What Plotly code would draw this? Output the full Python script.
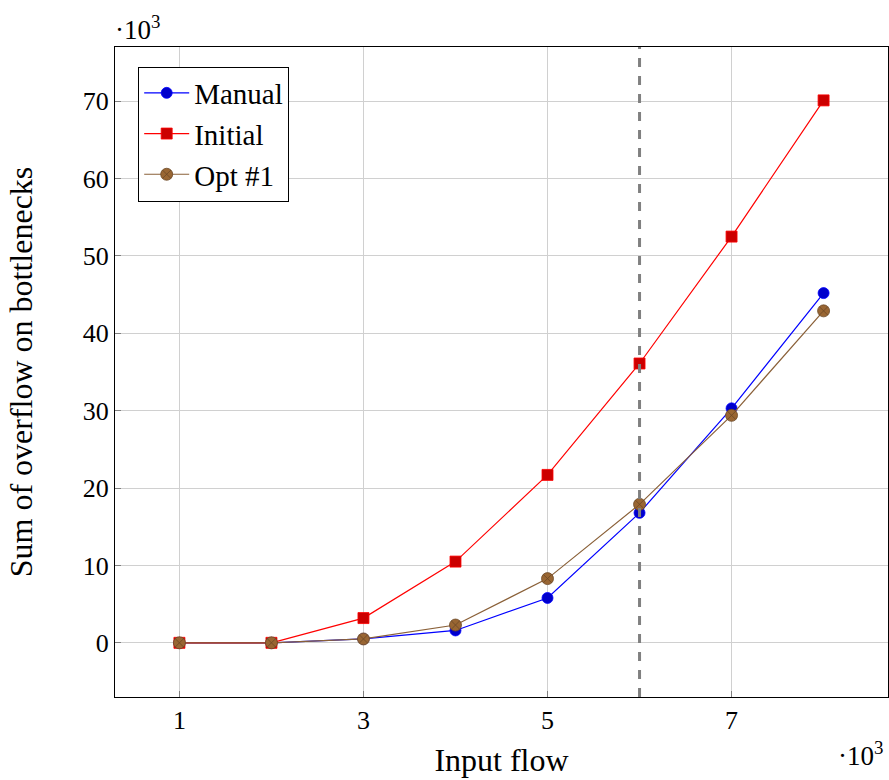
import plotly.graph_objects as go

x_flow = [1, 2, 3, 4, 5, 6, 7, 8]
manual = [0, 0, 0.5, 1.6, 5.8, 16.8, 30.3, 45.2]
initial = [0, 0, 3.2, 10.5, 21.7, 36.1, 52.5, 70.1]
opt1 = [0, 0, 0.5, 2.3, 8.3, 17.9, 29.4, 42.9]
x_ticks = [1, 3, 5, 7]
y_ticks = [0, 10, 20, 30, 40, 50, 60, 70]
vline_x = 6

FONT = "Liberation Serif"

fig = go.Figure()
fig.add_trace(go.Scatter(
    x=x_flow, y=manual, name="Manual", mode="lines+markers",
    line=dict(color="#0000ff", width=1.2),
    marker=dict(symbol="circle", size=11, color="#0000cc", line=dict(color="#0000ff", width=0.8)),
))
fig.add_trace(go.Scatter(
    x=x_flow, y=initial, name="Initial", mode="lines+markers",
    line=dict(color="#ff0000", width=1.2),
    marker=dict(symbol="square", size=11, color="#cc0000", line=dict(color="#ff0000", width=0.8)),
))
fig.add_trace(go.Scatter(
    x=x_flow, y=opt1, name="Opt #1", mode="lines+markers",
    line=dict(color="#8a6038", width=1.2),
    marker=dict(symbol="circle-x", size=12, color="#996633", line=dict(color="#6b4726", width=0.8)),
))

fig.add_shape(type="line", x0=vline_x, x1=vline_x, xref="x", y0=0, y1=1, yref="paper",
              line=dict(color="#808080", width=3, dash="dash"), layer="above")

fig.update_layout(
    width=889, height=780,
    margin=dict(l=115, r=1, t=47, b=83),
    paper_bgcolor="white", plot_bgcolor="white",
    font=dict(family=FONT, size=26, color="black"),
    showlegend=True,
    legend=dict(x=0.03, y=0.97, xanchor="left", yanchor="top",
                bordercolor="black", borderwidth=1, bgcolor="white",
                font=dict(family=FONT, size=29), tracegroupgap=0, itemwidth=45),
    xaxis=dict(range=[0.3, 8.7], tickvals=x_ticks, showgrid=True, gridcolor="#d0d0d0",
               gridwidth=1, zeroline=False, showline=True, linecolor="black", linewidth=1.2,
               mirror=True, ticks="inside", ticklen=6, tickcolor="#808080", automargin=False,
               tickfont=dict(family=FONT, size=26),
               title=dict(text="Input flow", font=dict(family=FONT, size=32), standoff=14)),
    yaxis=dict(range=[-7, 77], tickvals=y_ticks, showgrid=True, gridcolor="#d0d0d0",
               gridwidth=1, zeroline=False, showline=True, linecolor="black", linewidth=1.2,
               mirror=True, ticks="inside", ticklen=6, tickcolor="#808080", automargin=False,
               tickfont=dict(family=FONT, size=26),
               title=dict(text="Sum of overflow on bottlenecks", font=dict(family=FONT, size=32), standoff=40)),
)

fig.add_annotation(text="·10<sup>3</sup>", x=0, xref="paper", xanchor="left", xshift=-2,
                   y=1, yref="paper", yanchor="bottom", yshift=0, showarrow=False,
                   font=dict(family=FONT, size=27))
fig.add_annotation(text="·10<sup>3</sup>", x=1, xref="paper", xanchor="right", xshift=-3,
                   y=0, yref="paper", yanchor="top", yshift=-38, showarrow=False,
                   font=dict(family=FONT, size=27))

fig.write_html("out.html", config={"displayModeBar": False},
               post_script="document.body.style.margin='0';document.body.style.overflow='hidden';")
